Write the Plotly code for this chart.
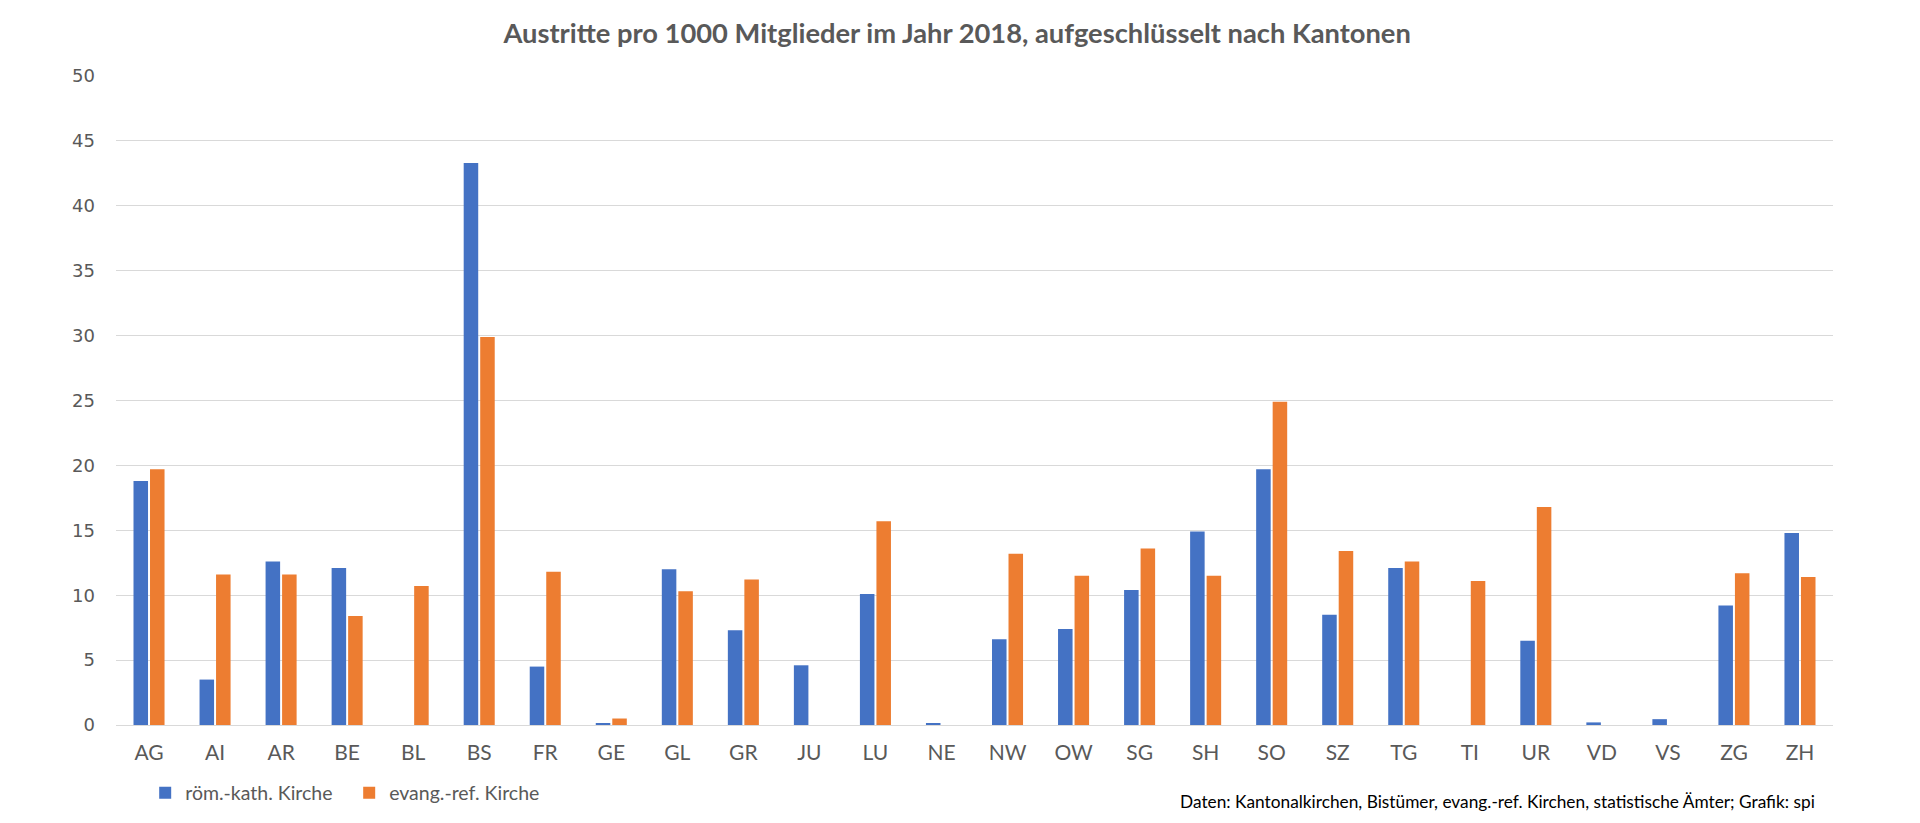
import plotly.graph_objects as go

kantone = ["AG", "AI", "AR", "BE", "BL", "BS", "FR", "GE", "GL", "GR", "JU", "LU", "NE",
           "NW", "OW", "SG", "SH", "SO", "SZ", "TG", "TI", "UR", "VD", "VS", "ZG", "ZH"]
kath = [18.8, 3.5, 12.6, 12.1, 0, 43.3, 4.5, 0.1, 12.0, 7.3, 4.6, 10.1, 0.1,
        6.6, 7.4, 10.4, 14.9, 19.7, 8.5, 12.1, 0, 6.5, 0.2, 0.45, 9.2, 14.8]
ref = [19.7, 11.6, 11.6, 8.4, 10.7, 29.9, 11.8, 0.5, 10.3, 11.2, 0, 15.7, 0,
       13.2, 11.5, 13.6, 11.5, 24.9, 13.4, 12.6, 11.1, 16.8, 0, 0, 11.7, 11.4]
y_ticks = [0, 5, 10, 15, 20, 25, 30, 35, 40, 45, 50]

title = "Austritte pro 1000 Mitglieder im Jahr 2018, aufgeschlüsselt nach Kantonen"
source = "Daten: Kantonalkirchen, Bistümer, evang.-ref. Kirchen, statistische Ämter; Grafik: spi"

BLUE = "#4472C4"
ORANGE = "#ED7D31"
TXT = "#595959"
FONT = "Lato, 'Open Sans', sans-serif"

fig = go.Figure()
fig.add_trace(go.Bar(x=kantone, y=kath, name="röm.-kath. Kirche", marker_color=BLUE,
                     marker_line_width=0))
fig.add_trace(go.Bar(x=kantone, y=ref, name="evang.-ref. Kirche", marker_color=ORANGE,
                     marker_line_width=0))

fig.update_layout(
    width=1920, height=823,
    paper_bgcolor="white", plot_bgcolor="white",
    margin=dict(l=116, r=87, t=76, b=97),
    barmode="group", bargap=0.5, bargroupgap=0.12,
    title=dict(text="<b>" + title + "</b>", x=0.4985, xanchor="center", y=0.959, yanchor="middle",
               font=dict(family=FONT, size=27.3, color=TXT)),
    font=dict(family=FONT, color=TXT),
    legend=dict(orientation="h", x=0.017, xanchor="left", y=-0.103, yanchor="middle",
                font=dict(family=FONT, size=19.5, color=TXT), itemwidth=30,
                entrywidth=159, entrywidthmode="pixels",
                bgcolor="rgba(0,0,0,0)"),
    annotations=[dict(text=source, xref="paper", yref="paper", x=0.9907, y=-0.118,
                      xanchor="right", yanchor="middle", showarrow=False,
                      font=dict(family=FONT, size=17.3, color="#000000"))],
)
fig.update_xaxes(showgrid=False, showline=False, ticks="", ticklabelstandoff=13,
                 tickfont=dict(family=FONT, size=21, color=TXT))
fig.update_yaxes(range=[0, 50], tickvals=y_ticks, showgrid=True, gridcolor="#D9D9D9",
                 gridwidth=1.3, zeroline=True, zerolinecolor="#D9D9D9", zerolinewidth=1.3,
                 showline=False, ticks="", ticklabelstandoff=20,
                 tickfont=dict(family="'DejaVu Sans', sans-serif", size=18, color=TXT))

fig.write_html("out.html")
